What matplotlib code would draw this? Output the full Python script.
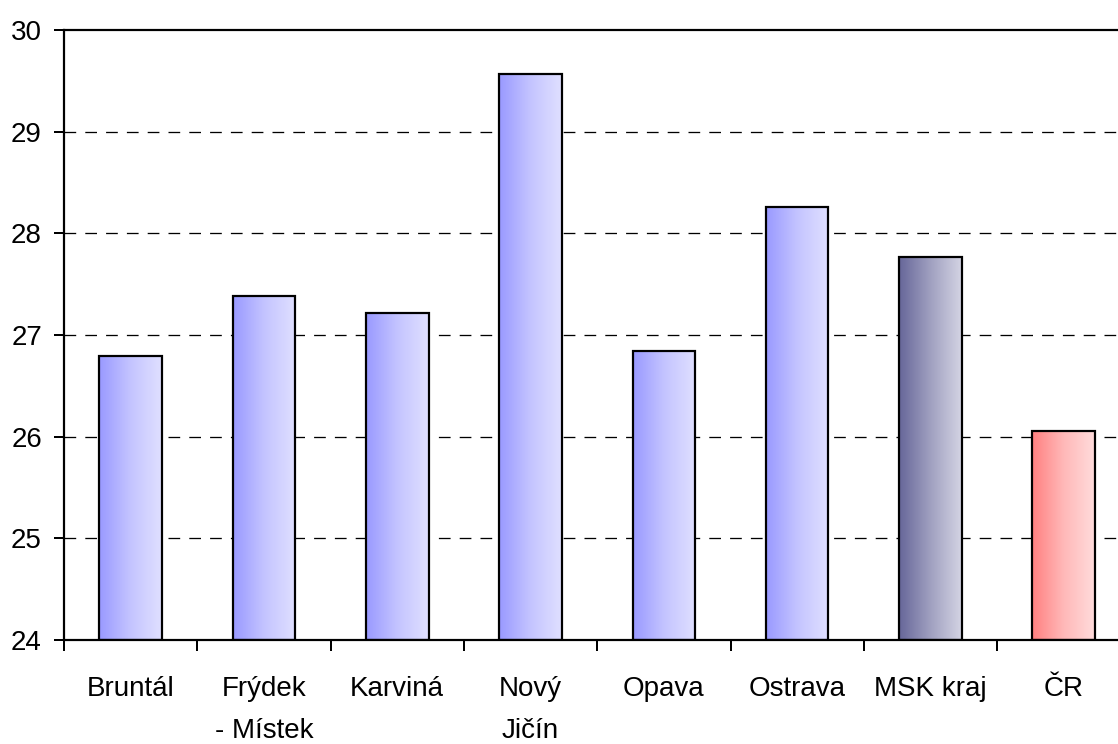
import numpy as np
import matplotlib
matplotlib.use("Agg")
import matplotlib.pyplot as plt
from matplotlib.colors import LinearSegmentedColormap
from matplotlib.ticker import FixedLocator

categories = ["Bruntál", "Frýdek\n- Místek", "Karviná", "Nový\nJičín", "Opava", "Ostrava", "MSK kraj", "ČR"]
values = [26.79, 27.38, 27.22, 29.57, 26.84, 28.26, 27.77, 26.06]
bar_kind = ["okres", "okres", "okres", "okres", "okres", "okres", "kraj", "stat"]
yticks = [24, 25, 26, 27, 28, 29, 30]

gradients = {
    "okres": ["#9999FF", "#C4C4FF", "#E0E0FF"],
    "kraj": ["#666699", "#A0A0C0", "#D4D4E4"],
    "stat": ["#FF8080", "#FFB8B8", "#FFDCDC"],
}

plt.rcParams['font.family'] = ['Liberation Sans Narrow', 'Liberation Sans', 'DejaVu Sans']

W, H = 1118, 744
PT = 72 / 100  # points per pixel
fig = plt.figure(figsize=(W / 100, H / 100), dpi=100)
left_px, bottom_px, top_px = 64, 640, 30
cat_px = 133.3
n = len(categories)
ax = fig.add_axes([left_px / W, 1 - bottom_px / H, n * cat_px / W, (bottom_px - top_px) / H])

ymin, ymax = 24, 30
ax.set_xlim(0, n)
ax.set_ylim(ymin, ymax)

bw = 0.47
grad = np.linspace(0, 1, 256).reshape(1, -1)
for i, (v, k) in enumerate(zip(values, bar_kind)):
    x0 = i + 0.5 - bw / 2
    cmap = LinearSegmentedColormap.from_list(k, gradients[k])
    ax.imshow(grad, extent=[x0, x0 + bw, ymin, v], aspect='auto', cmap=cmap,
              interpolation='bicubic', zorder=2)
    ax.bar(i + 0.5, v - ymin, bottom=ymin, width=bw, fill=False,
           edgecolor='black', linewidth=2.2 * PT, zorder=3)

ax.set_xlim(0, n)
ax.set_ylim(ymin, ymax)

for y in yticks[1:-1]:
    ax.axhline(y, color='black', linestyle=(0, (9, 7)), linewidth=1.3 * PT, zorder=1)

fs = 20
ax.yaxis.set_major_locator(FixedLocator(yticks))
ax.set_yticklabels([str(t) for t in yticks], fontsize=fs)
ax.xaxis.set_major_locator(FixedLocator(np.arange(0, n + 1)))
ax.xaxis.set_minor_locator(FixedLocator(np.arange(n) + 0.5))
ax.set_xticklabels([])
ax.set_xticklabels(categories, minor=True, fontsize=fs, linespacing=1.8)
ax.tick_params(axis='x', which='major', direction='out', length=11 * PT, width=2 * PT)
ax.tick_params(axis='x', which='minor', length=0, pad=36 * PT)
ax.tick_params(axis='y', direction='out', length=10 * PT, width=2 * PT, pad=12 * PT)

for s in ['left', 'bottom', 'top']:
    ax.spines[s].set_linewidth(2.2 * PT)
ax.spines['right'].set_visible(False)

fig.savefig("out.png", dpi=100)
